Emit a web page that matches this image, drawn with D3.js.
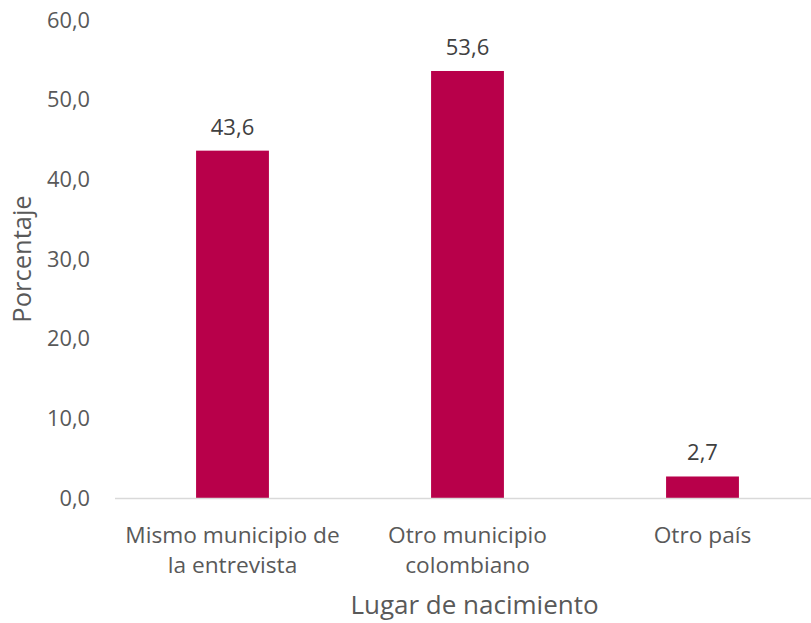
<!DOCTYPE html>
<html><head><meta charset="utf-8">
<script src="https://cdn.jsdelivr.net/npm/d3@7"></script>
<style>body{margin:0;background:#fff;} text{font-family:"Open Sans","Noto Sans",sans-serif;}</style>
</head><body>
<svg id="c" width="811" height="623"></svg>
<script>
const categories = [["Mismo municipio de","la entrevista"],["Otro municipio","colombiano"],["Otro país"]];
const values = [43.6, 53.6, 2.7];
const yTicks = [0,10,20,30,40,50,60];
const yTitle = "Porcentaje";
const xTitle = "Lugar de nacimiento";

const svg = d3.select("#c");
const x = d3.scaleBand().domain(d3.range(values.length)).range([115, 820]).paddingInner(0.69).paddingOuter(0.345);
const y = d3.scaleLinear().domain([0,60]).range([498, 20]);

svg.selectAll("rect.bar").data(values).enter().append("rect")
  .attr("x",(d,i)=>x(i)).attr("width",x.bandwidth())
  .attr("y",d=>y(d)).attr("height",d=>y(0)-y(d)).attr("fill","#B8004A");

svg.append("line").attr("x1",115).attr("x2",811).attr("y1",y(0)+0.5).attr("y2",y(0)+0.5)
  .attr("stroke","#d9d9d9").attr("stroke-width",1.3);

const fmt = v => v.toFixed(1).replace(".",",");
svg.selectAll("text.yt").data(yTicks).enter().append("text")
  .attr("x",90).attr("y",d=>y(d)).attr("dy","0.35em").attr("text-anchor","end")
  .attr("font-size",21.8).attr("fill","#595959").text(fmt);

svg.selectAll("text.dl").data(values).enter().append("text")
  .attr("x",(d,i)=>x(i)+x.bandwidth()/2).attr("y",d=>y(d)-16).attr("text-anchor","middle")
  .attr("font-size",22).attr("fill","#404040").text(fmt);

categories.forEach((lines,i)=>{
  const cx = x(i)+x.bandwidth()/2;
  const t = svg.append("text").attr("text-anchor","middle").attr("font-size",22.7).attr("fill","#595959")
    .attr("x",cx).attr("y",543);
  lines.forEach((l,j)=>t.append("tspan").attr("x",cx).attr("dy",j?30:0).text(l));
});

svg.append("text").attr("x",474.5).attr("y",614).attr("text-anchor","middle")
  .attr("font-size",26).attr("fill","#595959").text(xTitle);
svg.append("text").attr("transform","translate(31,259) rotate(-90)").attr("text-anchor","middle")
  .attr("font-size",25.5).attr("fill","#595959").text(yTitle);
</script>
</body></html>
